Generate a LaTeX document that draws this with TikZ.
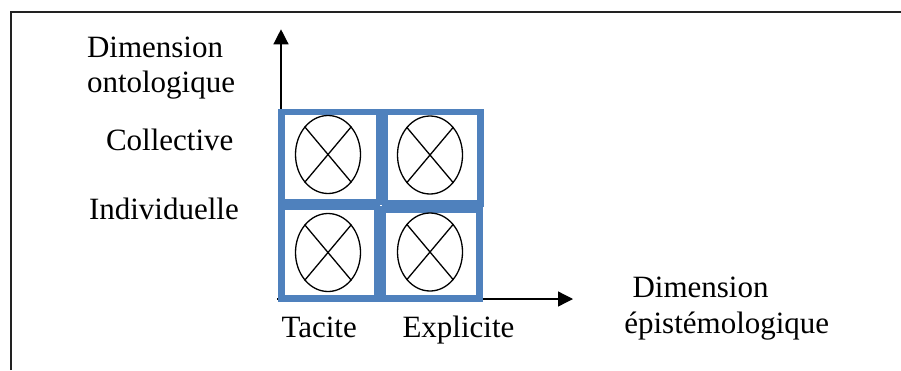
\documentclass[tikz,border=0pt]{standalone}
\usepackage{fontspec}
\setmainfont{Liberation Serif}
\usetikzlibrary{arrows.meta,shapes.geometric}
\definecolor{cellblue}{HTML}{4F81BD}
\definecolor{framegray}{HTML}{222222}
\tikzset{
  label text/.style={anchor=base west, inner sep=0pt, outer sep=0pt,
    font=\fontsize{31}{35.6}\selectfont},
  axis/.style={line width=1.3pt, -{Triangle[length=15pt,width=15pt]}},
  cell/.style={draw=cellblue, line width=6.5pt, rectangle, inner sep=0pt,
    outer sep=0pt},
  knot/.style={draw=black, line width=1.3pt, ellipse, inner sep=0pt,
    minimum width=65pt, minimum height=78pt},
  cross/.style={line width=1.3pt, black},
}
\begin{document}
\begin{tikzpicture}[x=1pt,y=-1pt]
\useasboundingbox (0,0) rectangle (901,370);

% page frame
\draw[framegray, line width=2pt] (10.5,370) -- (10.5,12) -- (901,12);

% axes
\coordinate (hstart) at (277,299);
\coordinate (hend) at (573,299);
\coordinate (vstart) at (281,299);
\coordinate (vend) at (281,29.3);
\draw[axis] (hstart) -- (hend);
\draw[axis] (vstart) -- (vend);

% the four cells of the matrix
\node[cell, minimum width=97.5pt, minimum height=90pt] (c11) at (330.2,157) {};
\node[cell, minimum width=95.5pt, minimum height=91.5pt] (c12) at (432.7,157.8) {};
\node[cell, minimum width=95.7pt, minimum height=91.3pt] (c21) at (329.2,252.7) {};
\node[cell, minimum width=97.2pt, minimum height=88.8pt] (c22) at (431.1,253.9) {};

% crossed circles inside the cells
\foreach \n/\x/\y in {e11/328/154.5, e12/430/155, e21/328/252.5, e22/430/252}{
  \node[knot] (\n) at (\x,\y) {};
  \draw[cross] (\n.130) -- (\n.310);
  \draw[cross] (\n.50) -- (\n.230);
}

% labels
\node[label text] (onto1) at (87,57.3) {Dimension};
\node[label text] (onto2) at (87,92.7) {ontologique};
\node[label text] (coll) at (106,150) {Collective};
\node[label text] (indiv) at (89,219.5) {Individuelle};
\node[label text] (tac) at (281.5,337.3) {Tacite};
\node[label text] (expl) at (402.5,337.3) {Explicite};
\node[label text] (epis1) at (632.5,297.5) {Dimension};
\node[label text] (epis2) at (624.3,333.3) {épistémologique};
\end{tikzpicture}
\end{document}
